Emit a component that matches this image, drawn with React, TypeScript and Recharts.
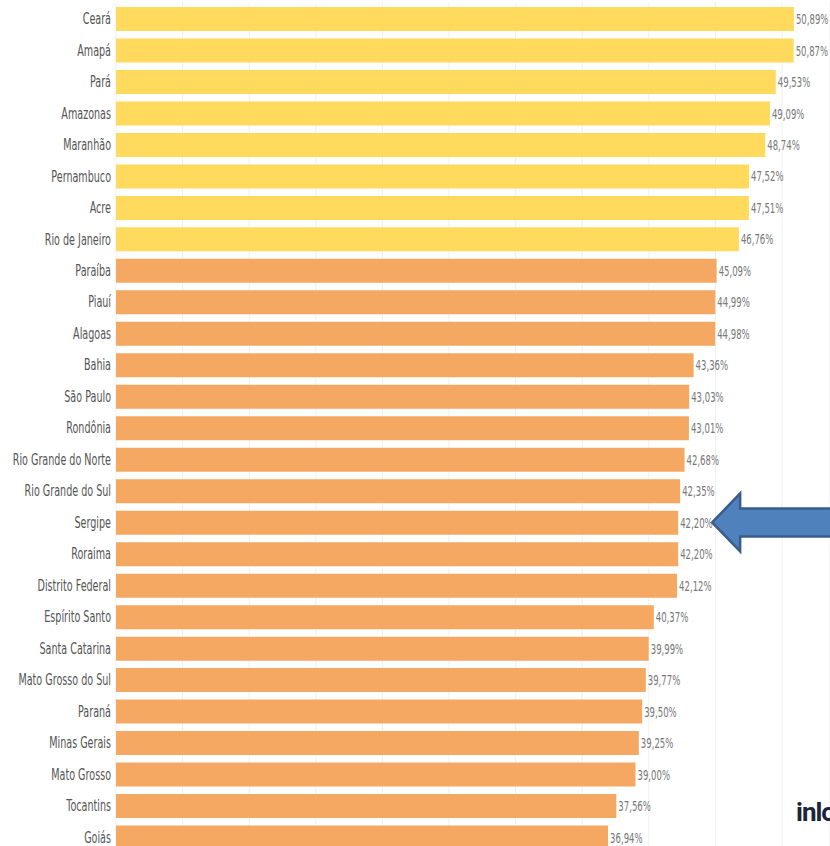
import React from "react";
import { BarChart, Bar, XAxis, YAxis, CartesianGrid, Cell, LabelList, ReferenceDot } from "recharts";

const STATES = [
  "Ceará", "Amapá", "Pará", "Amazonas", "Maranhão", "Pernambuco", "Acre", "Rio de Janeiro",
  "Paraíba", "Piauí", "Alagoas", "Bahia", "São Paulo", "Rondônia", "Rio Grande do Norte",
  "Rio Grande do Sul", "Sergipe", "Roraima", "Distrito Federal", "Espírito Santo",
  "Santa Catarina", "Mato Grosso do Sul", "Paraná", "Minas Gerais", "Mato Grosso",
  "Tocantins", "Goiás",
];
const VALUES = [
  50.89, 50.87, 49.53, 49.09, 48.74, 47.52, 47.51, 46.76,
  45.09, 44.99, 44.98, 43.36, 43.03, 43.01, 42.68,
  42.35, 42.2, 42.2, 42.12, 40.37,
  39.99, 39.77, 39.5, 39.25, 39.0,
  37.56, 36.94,
];
// first 8 states are the top group (yellow), the rest orange
const GROUP = VALUES.map((_, i) => (i < 8 ? "top" : "rest"));
const GRID_TICKS = [0, 5, 10, 15, 20, 25, 30, 35, 40, 45, 50];

const COLORS: Record<string, string> = { top: "#FFDA5C", rest: "#F5A862" };
const FONT = "'DejaVu Sans', sans-serif";

const data = STATES.map((name, i) => ({ name, value: VALUES[i], group: GROUP[i] }));

const fmt = (v: number) => v.toFixed(2).replace(".", ",") + "%";

// condensed look via horizontal squeeze
function StateTick(props: any) {
  const { x, y, payload } = props;
  return (
    <g transform={`translate(${x},${y})`}>
      <text transform="scale(0.64,1)" textAnchor="end" dy="0.36em" fill="#555" fontSize={15} fontFamily={FONT}>
        {payload.value}
      </text>
    </g>
  );
}

function ValueLabel(props: any) {
  const { x, y, width, height, value } = props;
  return (
    <g transform={`translate(${Number(x) + Number(width) + 2},${Number(y) + Number(height) / 2})`}>
      <text transform="scale(0.61,1)" dy="0.36em" fill="#777" fontSize={14} fontFamily={FONT}>
        {fmt(Number(value))}
      </text>
    </g>
  );
}

function Arrow(props: any) {
  const { cx, cy } = props;
  const tip = cx + 34;
  const pts = [
    [tip, cy],
    [tip + 28, cy - 29],
    [tip + 28, cy - 14],
    [tip + 140, cy - 14],
    [tip + 140, cy + 14],
    [tip + 28, cy + 14],
    [tip + 28, cy + 29],
  ]
    .map((p) => p.join(","))
    .join(" ");
  return <polygon points={pts} fill="#4F81BD" stroke="#385D8A" strokeWidth={2.5} />;
}

export default function App() {
  return (
    <div style={{ position: "absolute", left: 0, top: 0, width: 830, height: 846, overflow: "hidden", background: "#fff" }}>
      <BarChart
        width={830}
        height={853}
        data={data}
        layout="vertical"
        margin={{ top: 3, right: 0, left: 0, bottom: 0 }}
      >
        <CartesianGrid horizontal={false} stroke="#EFEFEF" />
        <XAxis type="number" domain={[0, 53.6]} ticks={GRID_TICKS} hide />
        <YAxis
          type="category"
          dataKey="name"
          width={116}
          axisLine={false}
          tickLine={false}
          tickSize={0}
          tickMargin={5}
          interval={0}
          tick={<StateTick />}
        />
        <Bar dataKey="value" barSize={24} isAnimationActive={false}>
          {data.map((d, i) => (
            <Cell key={`c-${i}`} fill={COLORS[d.group]} />
          ))}
          <LabelList dataKey="value" content={<ValueLabel />} />
        </Bar>
        <ReferenceDot x={42.2} y="Sergipe" r={0} shape={Arrow} ifOverflow="visible" />
      </BarChart>
      <div
        style={{
          position: "absolute",
          left: 796,
          top: 797,
          fontFamily: "Roboto, sans-serif",
          fontWeight: 700,
          fontSize: 26,
          letterSpacing: -1,
          color: "#1B2638",
          whiteSpace: "nowrap",
        }}
      >
        inloco
      </div>
    </div>
  );
}
